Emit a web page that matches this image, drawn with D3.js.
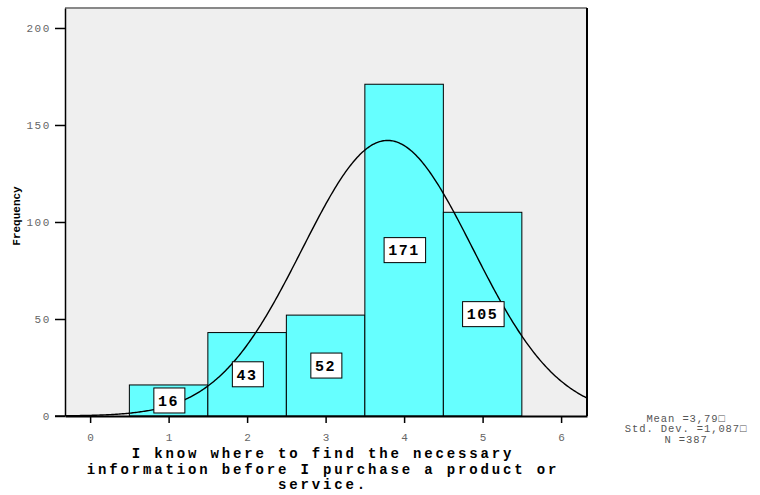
<!DOCTYPE html>
<html>
<head>
<meta charset="utf-8">
<script src="https://cdn.jsdelivr.net/npm/d3@7"></script>
<style>
html,body{margin:0;padding:0;background:#fff;}
svg{display:block;}
</style>
</head>
<body>
<svg id="chart" width="760" height="495"></svg>
<script>
// ---- data ----
const binCenters = [1, 2, 3, 4, 5];
const frequencies = [16, 43, 52, 171, 105];
const xTickValues = [0, 1, 2, 3, 4, 5, 6];
const yTickValues = [0, 50, 100, 150, 200];
const meanValue = 3.79;
const sdValue = 1.087;
const nValue = 387;
const statsLines = ["Mean =3,79\u25A1", "Std. Dev. =1,087\u25A1", "N =387"];
const xTitleLines = ["I know where to find the necessary", "information before I purchase a product or", "service."];
const yTitle = "Frequency";

// ---- layout ----
const svg = d3.select("#chart");
const L = 65, R = 587, T = 8, B = 416;
const x = d3.scaleLinear().domain([-0.32, 6.33]).range([L, R]);
const y = d3.scaleLinear().domain([0, 210.3]).range([B, T]);

// plot background
svg.append("rect").attr("x", L).attr("y", T).attr("width", R - L).attr("height", B - T)
  .attr("fill", "#efefef");

svg.append("clipPath").attr("id", "clip").append("rect")
  .attr("x", L).attr("y", T).attr("width", R - L).attr("height", B - T);

// bars
const bars = binCenters.map((c, i) => ({c, v: frequencies[i]}));
svg.append("g").selectAll("rect").data(bars).join("rect")
  .attr("x", d => x(d.c - 0.5))
  .attr("y", d => y(d.v))
  .attr("width", d => x(d.c + 0.5) - x(d.c - 0.5))
  .attr("height", d => y(0) - y(d.v))
  .attr("fill", "#66ffff")
  .attr("stroke", "#000")
  .attr("stroke-width", 1);

// normal curve
const peak = nValue * 1 / (sdValue * Math.sqrt(2 * Math.PI));
const curveXs = d3.range(0, 401).map(i => -0.32 + i * (6.33 + 0.32) / 400);
const line = d3.line()
  .x(d => x(d))
  .y(d => y(peak * Math.exp(-0.5 * Math.pow((d - meanValue) / sdValue, 2))))
  .curve(d3.curveLinear);
svg.append("path").datum(curveXs)
  .attr("d", line)
  .attr("fill", "none")
  .attr("stroke", "#000")
  .attr("stroke-width", 1.4)
  .attr("clip-path", "url(#clip)");

// value labels
const lblFont = "'Liberation Mono', 'DejaVu Sans Mono', monospace";
const lg = svg.append("g").selectAll("g").data(bars).join("g")
  .attr("transform", d => `translate(${x(d.c)},${y(d.v / 2)})`);
lg.append("text")
  .attr("text-anchor", "middle")
  .attr("dy", "0.35em")
  .attr("font-family", lblFont)
  .attr("font-weight", "bold")
  .attr("font-size", 15)
  .attr("letter-spacing", 1.5)
  .attr("fill", "#000")
  .text(d => d.v)
  .each(function() {
    const bb = this.getBBox();
    const w = bb.width + 10, h = 25;
    d3.select(this.parentNode).insert("rect", "text")
      .attr("x", -w / 2 + 0.75).attr("y", -h / 2)
      .attr("width", w).attr("height", h)
      .attr("fill", "#fff").attr("stroke", "#000").attr("stroke-width", 1);
  });

// frame
svg.append("line").attr("x1", L).attr("x2", R).attr("y1", T).attr("y2", T)
  .attr("stroke", "#888").attr("stroke-width", 2);
svg.append("line").attr("x1", R).attr("x2", R).attr("y1", T).attr("y2", B)
  .attr("stroke", "#000").attr("stroke-width", 2);

// axes
const tickFont = "'Liberation Mono', 'DejaVu Sans Mono', monospace";
const yAxis = svg.append("g").attr("transform", `translate(${L},0)`)
  .call(d3.axisLeft(y).tickValues(yTickValues).tickFormat(d3.format("d")).tickSize(10).tickPadding(4).tickSizeOuter(0));
yAxis.select(".domain").attr("stroke", "#000").attr("stroke-width", 1.5);
yAxis.selectAll(".tick line").attr("stroke", "#000").attr("stroke-width", 1.5);
yAxis.selectAll(".tick text").attr("font-family", tickFont).attr("font-size", 11)
  .attr("letter-spacing", 1.6).attr("fill", "#666");

const xAxis = svg.append("g").attr("transform", `translate(0,${B})`)
  .call(d3.axisBottom(x).tickValues(xTickValues).tickFormat(d3.format("d")).tickSize(7).tickPadding(10).tickSizeOuter(0));
xAxis.select(".domain").attr("stroke", "#000").attr("stroke-width", 2);
xAxis.selectAll(".tick line").attr("stroke", "#000").attr("stroke-width", 1.5);
xAxis.selectAll(".tick text").attr("font-family", tickFont).attr("font-size", 11)
  .attr("fill", "#666");
// extend bottom axis line left to meet y tick
svg.append("line").attr("x1", 55).attr("x2", L).attr("y1", B).attr("y2", B)
  .attr("stroke", "#000").attr("stroke-width", 1.5);

// x title
svg.append("g").selectAll("text").data(xTitleLines).join("text")
  .attr("x", 323).attr("y", (d, i) => 458 + i * 15.5)
  .attr("text-anchor", "middle")
  .attr("font-family", lblFont).attr("font-weight", "bold")
  .attr("font-size", 14).attr("letter-spacing", 2.85)
  .attr("fill", "#000")
  .text(d => d);

// y title
svg.append("text")
  .attr("transform", "translate(20,216) rotate(-90)")
  .attr("text-anchor", "middle")
  .attr("font-family", lblFont).attr("font-weight", "bold")
  .attr("font-size", 11)
  .attr("fill", "#000")
  .text(yTitle);

// stats
svg.append("g").selectAll("text").data(statsLines).join("text")
  .attr("x", 686).attr("y", (d, i) => 421.5 + i * 10.5)
  .attr("text-anchor", "middle")
  .attr("font-family", tickFont).attr("font-size", 10.5)
  .attr("letter-spacing", 0.9)
  .attr("fill", "#555")
  .text(d => d);
</script>
</body>
</html>
